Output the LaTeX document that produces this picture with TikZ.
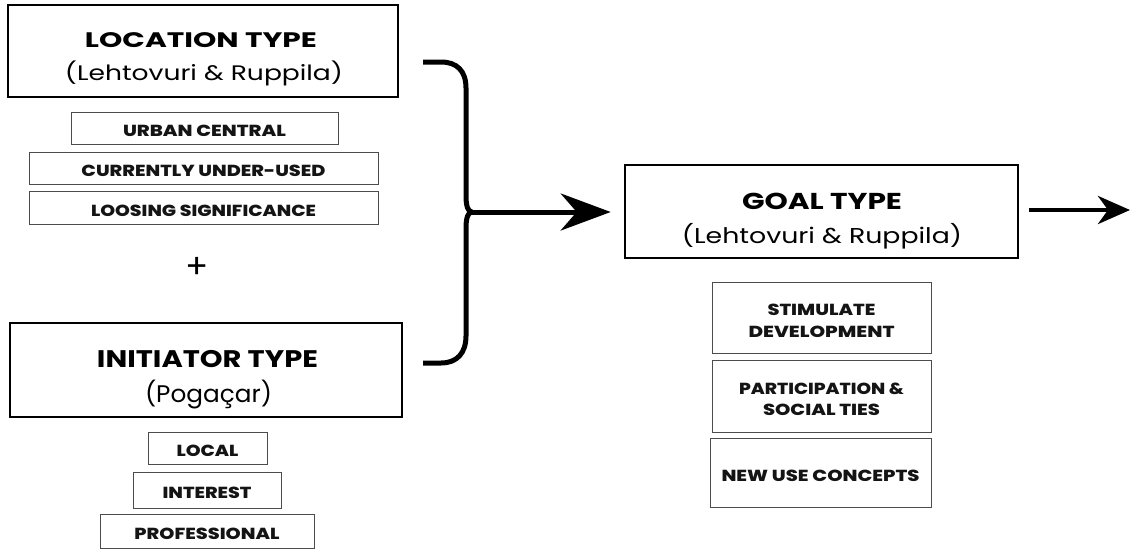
\documentclass[tikz,border=0pt]{standalone}
\usepackage{fontspec}
\usepackage{graphicx}
\setmainfont{Poppins}
\IfFontExistsTF{Poppins ExtraBold}{\newfontfamily\heavyfont{Poppins ExtraBold}}{\newcommand\heavyfont{\bfseries}}
\usetikzlibrary{arrows.meta,calc}
\newcommand\wfit[2]{\resizebox{#1}{\height}{#2}}
\tikzset{
  bigbox/.style={draw=black, line width=2.6pt, inner sep=0pt},
  smallbox/.style={draw=black!70, line width=1pt, inner sep=0pt, align=center,
    text height=17.5pt, text depth=0pt,
    font=\fontsize{16}{21.5}\selectfont\heavyfont, text=black!92},
  twoline/.style={text height=39pt, text depth=0pt},
  ttl/.style={anchor=base, inner sep=0pt, font=\fontsize{#1}{#1}\selectfont\bfseries},
  sub/.style={anchor=base, inner sep=0pt, font=\fontsize{#1}{#1}\selectfont},
  bracestyle/.style={line width=5pt, line cap=butt},
  flow/.style={line width=5pt, -{Stealth[length=50pt, width=37pt, inset=16pt]}},
  flowb/.style={line width=4.5pt, -{Stealth[length=32pt, width=28pt, inset=10pt]}},
}
\begin{document}
\begin{tikzpicture}[x=1pt, y=-1pt]
\useasboundingbox (0,0) rectangle (1131,550);
% location type
\node[bigbox, minimum width=390pt, minimum height=92pt] (loc) at (203,51) {};
\node[ttl=21] (loct) at (201,47) {\wfit{232pt}{LOCATION TYPE}};
\node[sub=21] (locs) at (204,80) {\wfit{278pt}{(Lehtovuri \& Ruppila)}};
\node[smallbox, minimum width=267pt, minimum height=32pt] (urb) at (204.5,128) {\wfit{163pt}{URBAN CENTRAL}};
\node[smallbox, minimum width=349pt, minimum height=32pt] (cur) at (203.5,168) {\wfit{244pt}{CURRENTLY UNDER-USED}};
\node[smallbox, minimum width=349pt, minimum height=33pt] (loo) at (203.5,207.5) {\wfit{225pt}{LOOSING SIGNIFICANCE}};
\node[inner sep=0pt, font=\fontsize{34}{34}\selectfont] (plus) at (197,268) {+};
% initiator type
\node[bigbox, minimum width=392pt, minimum height=94pt] (ini) at (206,370) {};
\node[ttl=24] (init) at (207.5,367) {\wfit{221pt}{INITIATOR TYPE}};
\node[sub=24] (inis) at (208.5,402) {\wfit{127pt}{(Pogaçar)}};
\node[smallbox, minimum width=119pt, minimum height=32pt] (lcl) at (207.5,448) {\wfit{62pt}{LOCAL}};
\node[smallbox, minimum width=148pt, minimum height=36pt] (int) at (207,490) {\wfit{89pt}{INTEREST}};
\node[smallbox, minimum width=214pt, minimum height=34pt] (pro) at (207,531) {\wfit{145pt}{PROFESSIONAL}};
% goal type
\node[bigbox, minimum width=393pt, minimum height=93pt] (goal) at (821.5,211.5) {};
\node[ttl=23] (goalt) at (822,209) {\wfit{160pt}{GOAL TYPE}};
\node[sub=21.5] (goals) at (822,243) {\wfit{280pt}{(Lehtovuri \& Ruppila)}};
\node[smallbox, twoline, minimum width=219pt, minimum height=71pt] (sti) at (821.5,317.5) {\wfit{108pt}{STIMULATE}\\\wfit{146pt}{DEVELOPMENT}};
\node[smallbox, twoline, minimum width=219pt, minimum height=72pt] (par) at (821.5,396) {\wfit{165pt}{PARTICIPATION \&}\\\wfit{117pt}{SOCIAL TIES}};
\node[smallbox, minimum width=221pt, minimum height=69pt] (new) at (820.5,472.5) {\wfit{198pt}{NEW USE CONCEPTS}};
% brace
\coordinate (btop) at (423,62);
\coordinate (bbot) at (423,363);
\coordinate (bmid) at (472,212);
\coordinate (rend) at (1130,210);
\draw[bracestyle] (btop) -- (441,62) .. controls (457,62) and (466,71) .. (466,88)
  -- (466,196) .. controls (466,206) and (468,212) .. (bmid);
\draw[bracestyle] (bmid) .. controls (468,212) and (466,218) .. (466,228)
  -- (466,336) .. controls (466,353) and (457,363) .. (441,363) -- (bbot);
\draw[flow, shorten >=13pt] (bmid) -- (bmid -| goal.west);
\draw[flowb, shorten <=10pt] (goal.east |- rend) -- (rend);
\end{tikzpicture}
\end{document}
